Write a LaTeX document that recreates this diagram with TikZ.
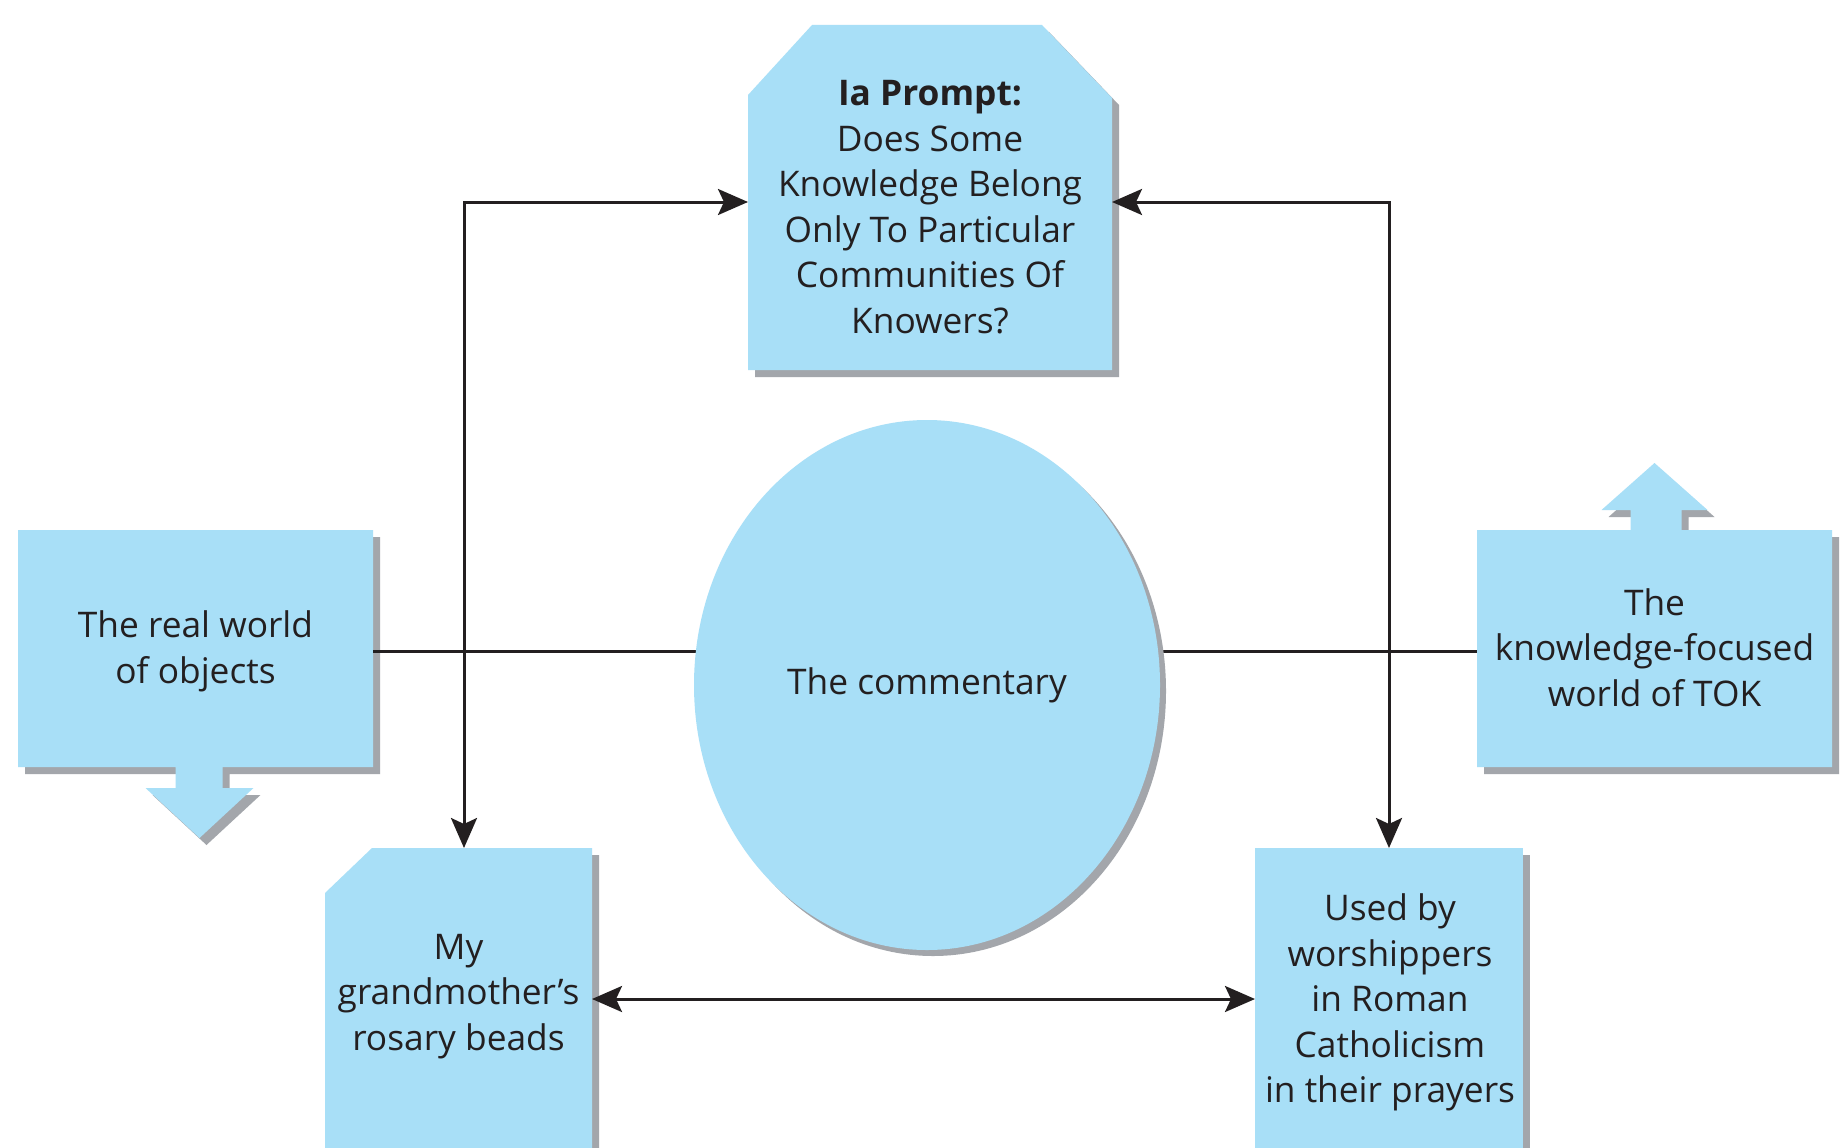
\documentclass[tikz,border=0pt]{standalone}
\usepackage{fontspec}
\setmainfont{Open Sans}
\usetikzlibrary{arrows.meta,shadows,shapes.geometric,calc}
\definecolor{boxblue}{RGB}{168,223,247}
\definecolor{shadowgrey}{RGB}{163,166,171}
\definecolor{ink}{RGB}{35,31,32}
\begin{document}
\begin{tikzpicture}[x=1pt,y=-1pt,
  frame/.style={rectangle, inner sep=0pt, outer sep=0pt},
  txt/.style={font=\fontsize{35.3}{45.5}\selectfont, text=ink, align=center, inner sep=0pt},
  conn/.style={draw=ink, line width=3pt},
  hd/.tip={Stealth[length=30pt, width=26pt, inset=6pt]},
]
\useasboundingbox (0,0) rectangle (1847,1148);
\clip (0,0) rectangle (1847,1148);
\fill[white] (0,0) rectangle (1847,1148);

% outlines of the boxes
\node[frame, minimum width=364pt, minimum height=345pt] (T) at (930,197.5) {};
\node[frame, minimum width=355pt, minimum height=237pt] (L) at (195.5,648.5) {};
\node[frame, minimum width=355pt, minimum height=237pt] (R) at (1654.5,648.5) {};
\node[frame, minimum width=267pt, minimum height=312pt] (G) at (458.5,1004) {};
\node[frame, minimum width=268pt, minimum height=312pt] (U) at (1389,1004) {};

% box fills, each with its grey shadow first
\foreach \d/\col in {7/shadowgrey, 0/boxblue}{
  % prompt box with cut top corners
  \fill[\col, transform canvas={shift={(\d pt,-\d pt)}}]
    (T.south west) -- ($(T.north west)+(0,70)$) -- ($(T.north west)+(64,0)$)
    -- ($(T.north east)+(-70,0)$) -- ($(T.north east)+(0,73)$) -- (T.south east) -- cycle;
  % real world box with downward arrow
  \fill[\col, transform canvas={shift={(\d pt,-\d pt)}}]
    (L.north west) -- (L.north east) -- (L.south east)
    -- ($(L.south)+(27,0)$) -- ($(L.south)+(27,21)$) -- ($(L.south)+(58,21)$)
    -- ($(L.south)+(4,71)$)
    -- ($(L.south)+(-50,21)$) -- ($(L.south)+(-20,21)$) -- ($(L.south)+(-20,0)$)
    -- (L.south west) -- cycle;
  % TOK box with upward arrow
  \fill[\col, transform canvas={shift={(\d pt,-\d pt)}}]
    (R.south west) -- (R.north west)
    -- ($(R.north)+(-24,0)$) -- ($(R.north)+(-24,-20)$) -- ($(R.north)+(-53,-20)$)
    -- ($(R.north)+(0,-67)$)
    -- ($(R.north)+(53,-20)$) -- ($(R.north)+(27,-20)$) -- ($(R.north)+(27,0)$)
    -- (R.north east) -- (R.south east) -- cycle;
  % rosary beads box with one cut corner
  \fill[\col, transform canvas={shift={(\d pt,-\d pt)}}]
    (G.south west) -- ($(G.north west)+(0,45)$) -- ($(G.north west)+(47,0)$)
    -- (G.north east) -- (G.south east) -- cycle;
  % worshippers box
  \fill[\col, transform canvas={shift={(\d pt,-\d pt)}}]
    (U.south west) rectangle (U.north east);
}

% the horizontal link runs behind the ellipse
\draw[conn] ([yshift=-3pt]L.east) -- ([yshift=-3pt]R.west);

% central ellipse
\node[ellipse, fill=boxblue, minimum width=466pt, minimum height=530pt,
      inner sep=0pt, outer sep=0pt, txt,
      drop shadow={shadow xshift=6pt, shadow yshift=-6pt, fill=shadowgrey, opacity=1}]
  (C) at (927,685) {The commentary};

% texts
\node[txt] (Tt) at ($(T.center)+(0,9.5)$)
  {\textbf{Ia Prompt:}\\Does Some\\Knowledge Belong\\Only To Particular\\Communities Of\\Knowers?};
\node[txt] (Lt) at ($(L.center)+(0,3)$) {The real world\\of objects};
\node[txt] (Rt) at ($(R.center)+(0,-1)$) {The\\knowledge-focused\\world of TOK};
\node[txt] (Gt) at ($(G.center)+(0,-7.5)$) {My\\grandmother’s\\rosary beads};
\node[txt] (Ut) at ($(U.center)+(1,-1.5)$) {Used by\\worshippers\\in Roman\\Catholicism\\in their prayers};

% arrows
\draw[conn, hd-hd] ([xshift=5.5pt]G.north) |- ([yshift=-4.5pt]T.west);
\draw[conn, hd-hd] (U.north) |- ([yshift=-4.5pt]T.east);
\draw[conn, hd-hd] ([yshift=5pt]G.east) -- ([yshift=5pt]U.west);
\end{tikzpicture}
\end{document}
